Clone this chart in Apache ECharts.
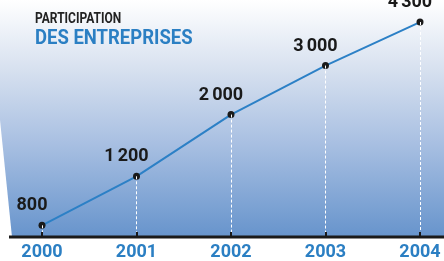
<!DOCTYPE html>
<html>
<head>
<meta charset="utf-8">
<style>
  html, body { margin: 0; padding: 0; background: #fff; }
  #chart { width: 444px; height: 261px; }
</style>
<script src="https://cdn.jsdelivr.net/npm/echarts@6/dist/echarts.min.js"></script>
</head>
<body>
<div id="chart"></div>
<script>
  "use strict";

  var years = ['2000', '2001', '2002', '2003', '2004'];
  var participants = [800, 1200, 2000, 3000, 4300];
  // hidden y axis range (the original artwork is not to a linear scale)
  var yMin = 757;
  var yMax = 5160;

  var font = "Roboto, 'Liberation Sans', sans-serif";
  var blue = '#2b7fc3';

  // thousands with a narrow space, french style
  function fmt(v) {
    return String(v).replace(/\B(?=(\d{3})+(?!\d))/g, '\u2006');
  }

  // dashed drop lines from each point to the baseline
  var dropLines = years.map(function (y, i) {
    return [{ coord: [i, participants[i]] }, { coord: [i, yMin] }];
  });

  var chart = echarts.init(document.getElementById('chart'));

  chart.setOption({
    animation: false,
    graphic: [{
      type: 'polygon',
      z: -10,
      silent: true,
      shape: { points: [[0, 0], [444, 0], [444, 237], [12, 237], [0, 120]] },
      style: {
        fill: {
          type: 'linear', x: 0, y: 0, x2: 0, y2: 1,
          colorStops: [
            { offset: 0, color: '#ffffff' },
            { offset: 0.3, color: '#d6e0ef' },
            { offset: 0.6, color: '#a9c0e2' },
            { offset: 1, color: '#6794cc' }
          ]
        }
      }
    }, {
      type: 'line',
      z: 10,
      silent: true,
      shape: { x1: 9, y1: 237, x2: 444, y2: 237 },
      style: { stroke: '#1a1a1a', lineWidth: 3 }
    }, {
      type: 'text',
      x: 35, y: 12,
      scaleX: 0.8,
      style: { text: 'PARTICIPATION', font: 'bold 15px ' + font, fill: '#222', verticalAlign: 'top' }
    }, {
      type: 'text',
      x: 35, y: 28,
      scaleX: 0.88,
      style: { text: 'DES ENTREPRISES', font: 'bold 21px ' + font, fill: blue, verticalAlign: 'top' }
    }],
    grid: { left: 42, right: 24, top: 0, bottom: 24 },
    xAxis: {
      type: 'category',
      data: years,
      boundaryGap: false,
      axisLine: { show: false },
      axisTick: { show: true, length: 6, lineStyle: { color: '#1a1a1a', width: 2 } },
      axisLabel: {
        margin: 11,
        color: blue,
        fontWeight: 'bold',
        fontSize: 18,
        fontFamily: font
      },
      splitLine: { show: false }
    },
    yAxis: {
      type: 'log',
      logBase: 10,
      min: yMin,
      max: yMax,
      show: false,
      splitLine: { show: false }
    },
    series: [{
      type: 'line',
      data: participants,
      symbol: 'circle',
      symbolSize: 7,
      itemStyle: { color: '#1a1a1a' },
      lineStyle: { color: '#2c80c6', width: 2 },
      label: {
        show: true,
        position: 'top',
        distance: 7,
        offset: [-10, 0],
        formatter: function (p) { return fmt(p.value); },
        fontFamily: font,
        fontWeight: 'bold',
        fontSize: 18,
        color: '#1a1a1a'
      },
      markLine: {
        silent: true,
        symbol: 'none',
        label: { show: false },
        lineStyle: { color: '#ffffff', type: [3, 2], width: 1 },
        data: dropLines
      }
    }]
  });
</script>
</body>
</html>
